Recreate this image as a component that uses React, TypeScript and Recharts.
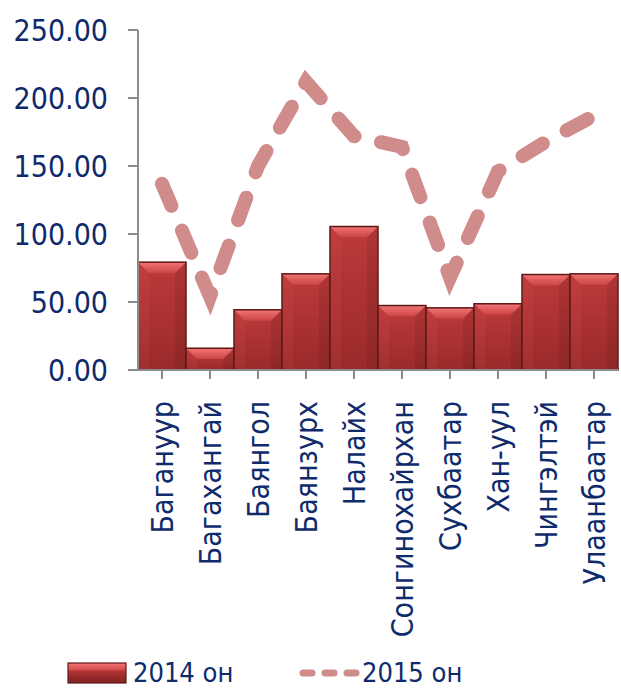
import React from 'react';
import { ComposedChart, Bar, Line, XAxis, YAxis, Legend } from 'recharts';

const categories = ['Багануур', 'Багахангай', 'Баянгол', 'Баянзурх', 'Налайх', 'Сонгинохайрхан', 'Сухбаатар', 'Хан-уул', 'Чингэлтэй', 'Улаанбаатар'];
const values2014 = [79.3, 16.0, 44.3, 70.7, 105.5, 47.4, 45.7, 48.7, 70.2, 70.7];
const values2015 = [137, 54, 150, 212, 172, 164, 68, 146, 168, 187];
const yTicks = [0, 50, 100, 150, 200, 250];
const seriesNames = ['2014 он', '2015 он'];

const data = categories.map((c, i) => ({ name: c, v2014: values2014[i], v2015: values2015[i] }));

const TEXT = '#0e2b6b';
const FONT = "'DejaVu Sans Condensed', 'DejaVu Sans', sans-serif";
const LINE_COLOR = '#d08b8b';

const BevelBar = (props: any) => {
  const { x, y, width, height } = props;
  if (height == null || height <= 0) return null;
  const b = Math.min(11, height / 2, width / 2);
  return (
    <g>
      <rect x={x} y={y} width={width} height={height} fill="url(#barBody)" />
      <polygon points={`${x},${y} ${x + width},${y} ${x + width - b},${y + b} ${x + b},${y + b}`} fill="url(#bevelTop)" />
      <polygon points={`${x},${y} ${x + b},${y + b} ${x + b},${y + height} ${x},${y + height}`} fill="rgba(255,110,110,0.08)" />
      <polygon points={`${x + width},${y} ${x + width - b},${y + b} ${x + width - b},${y + height} ${x + width},${y + height}`} fill="rgba(0,0,0,0.08)" />
      <rect x={x} y={y} width={width} height={height} fill="none" stroke="#5e1818" strokeWidth={1.5} />
    </g>
  );
};

const CatTick = (props: any) => {
  const { x, y, payload } = props;
  const ty = y + 20;
  return (
    <text x={x} y={ty} transform={`rotate(-90, ${x}, ${ty})`} textAnchor="end" dy="0.35em" fill={TEXT} fontSize={30} fontFamily={FONT}>
      {payload.value}
    </text>
  );
};

const LegendContent = () => (
  <svg width={621} height={44} style={{ display: 'block', overflow: 'visible' }}>
    <defs>
      <linearGradient id="legBody" x1="0" y1="0" x2="0" y2="1">
        <stop offset="0" stopColor="#f47a7a" />
        <stop offset="0.35" stopColor="#d44a4a" />
        <stop offset="0.4" stopColor="#b53434" />
        <stop offset="1" stopColor="#7d2222" />
      </linearGradient>
    </defs>
    <rect x={68} y={19} width={58} height={20} fill="url(#legBody)" stroke="#5e1818" strokeWidth={1.2} />
    <line x1={303} y1={29} x2={357} y2={29} stroke={LINE_COLOR} strokeWidth={7} strokeLinecap="round" strokeDasharray="9 13" />
    <text x={133} y={38} fill={TEXT} fontSize={27} fontFamily={FONT}>{seriesNames[0]}</text>
    <text x={362} y={38} fill={TEXT} fontSize={27} fontFamily={FONT}>{seriesNames[1]}</text>
  </svg>
);

export default function App() {
  return (
    <div style={{ position: 'absolute', left: 0, top: 0, width: 621, height: 688, background: '#fff' }}>
      <ComposedChart width={621} height={688} data={data} margin={{ top: 30, right: 3, left: 0, bottom: 0 }} barCategoryGap={0} barGap={0}>
        <defs>
          <linearGradient id="barBody" x1="0" y1="0" x2="0" y2="1">
            <stop offset="0" stopColor="#bd3a3a" />
            <stop offset="1" stopColor="#9a2a2a" />
          </linearGradient>
          <linearGradient id="bevelTop" x1="0" y1="0" x2="0" y2="1">
            <stop offset="0" stopColor="#f27575" />
            <stop offset="1" stopColor="#cc4343" />
          </linearGradient>
        </defs>
        <XAxis
          dataKey="name"
          interval={0}
          height={274}
          tick={<CatTick />}
          tickSize={9}
          axisLine={{ stroke: '#8c8c8c', strokeWidth: 2 }}
          tickLine={{ stroke: '#8c8c8c', strokeWidth: 2 }}
        />
        <YAxis
          domain={[0, 250]}
          ticks={yTicks}
          width={138}
          tickSize={10}
          tickMargin={20}
          tickFormatter={(v: number) => v.toFixed(2)}
          tick={{ fill: TEXT, fontSize: 30, fontFamily: FONT }}
          axisLine={{ stroke: '#8c8c8c', strokeWidth: 2 }}
          tickLine={{ stroke: '#8c8c8c', strokeWidth: 2 }}
        />
        <Bar dataKey="v2014" name={seriesNames[0]} shape={<BevelBar />} isAnimationActive={false} />
        <Line
          dataKey="v2015"
          name={seriesNames[1]}
          type="linear"
          stroke={LINE_COLOR}
          strokeWidth={14}
          strokeLinecap="round"
          strokeDasharray="24 27"
          dot={false}
          activeDot={false}
          isAnimationActive={false}
        />
        <Legend verticalAlign="bottom" height={44} content={<LegendContent />} wrapperStyle={{ left: 0, width: 621 }} />
      </ComposedChart>
    </div>
  );
}
